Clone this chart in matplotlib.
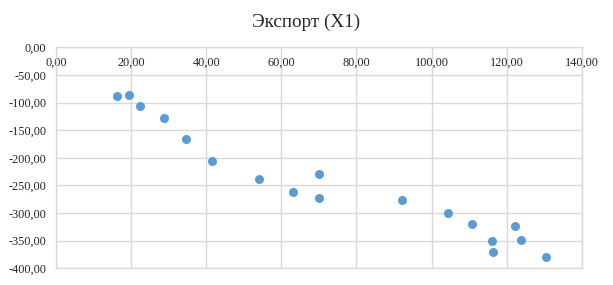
import matplotlib
matplotlib.use("Agg")
import matplotlib.pyplot as plt
from matplotlib.ticker import FuncFormatter, MultipleLocator

# export (X1) vs response
x1 = [16.3, 19.4, 22.4, 28.7, 34.7, 41.5, 54.0, 63.1, 69.9, 70.0,
      92.2, 104.3, 110.8, 122.1, 116.0, 123.8, 116.4, 130.6]
y = [-87.6, -86.3, -106.0, -128.0, -166.5, -206.0, -238.4, -262.5, -229.9, -272.0,
     -276.4, -299.3, -319.3, -322.9, -350.6, -348.2, -371.0, -379.5]

title = "Экспорт (X1)"

plt.rcParams['font.family'] = ['Liberation Serif', 'DejaVu Serif']
grid_col = "#d9d9d9"
text_col = "#262626"

fig = plt.figure(figsize=(6.13, 2.85), dpi=100)
ax = fig.add_axes([0.0914, 0.0586, 0.8576, 0.7754])

ax.scatter(x1, y, s=42, color="#5b9bd5", zorder=3, linewidths=0)

ax.set_xlim(0, 140)
ax.set_ylim(-400, 0)
ax.xaxis.set_major_locator(MultipleLocator(20))
ax.yaxis.set_major_locator(MultipleLocator(50))

comma = FuncFormatter(lambda v, p: ("%.2f" % v).replace(".", ","))
ax.xaxis.set_major_formatter(comma)
ax.yaxis.set_major_formatter(comma)

ax.grid(True, color=grid_col, linewidth=1.0, zorder=0)
ax.set_axisbelow(True)
for s in ax.spines.values():
    s.set_color(grid_col)
    s.set_linewidth(1.0)

# x labels sit just under the zero line, like Excel does it
ax.tick_params(axis='x', top=False, bottom=False, labeltop=True, labelbottom=False,
               length=0, pad=-15.5, labelsize=8.8, labelcolor=text_col)
ax.tick_params(axis='y', length=0, pad=7, labelsize=8.8, labelcolor=text_col)

fig.text(0.5, 0.922, title, ha="center", va="center", fontsize=13.8, color=text_col)

plt.savefig("out.png", dpi=100)
plt.close(fig)
